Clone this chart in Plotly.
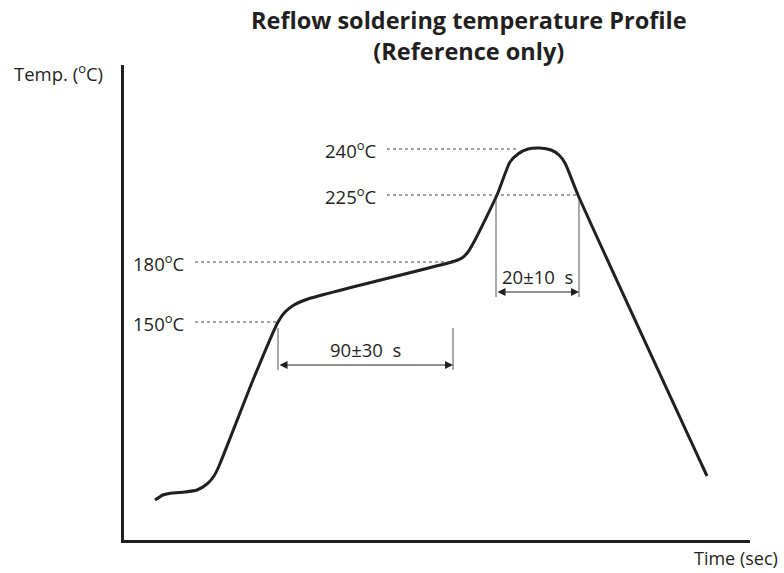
import plotly.graph_objects as go

# Schematic profile (time units, height units) -- plot area origin at bottom-left
profile_t = [31, 39, 48, 61, 73, 83, 90, 95, 129, 154, 161, 170, 184, 331, 338, 344, 351, 373, 386, 394, 404, 416, 427, 435, 441, 454, 583]
profile_h = [40, 45, 47, 48, 50, 56, 64, 74, 160, 218, 228, 235, 241, 279, 282, 288, 300, 345, 378, 386, 391, 392, 390, 385, 377, 345, 64]

# Temperature levels (schematic heights) with labels and dotted-line ends
level_labels = ["150<sup>o</sup>C", "180<sup>o</sup>C", "225<sup>o</sup>C", "240<sup>o</sup>C"]
level_h = [218, 278, 345, 391]
level_label_t = [63, 63, 255, 255]
level_line_end = [154, 331, 455, 394]

# Time windows
window_labels = ["90±30  s", "20±10  s"]
window_start = [154, 372]
window_end = [329, 455]
window_h = [175, 248]
window_top = [212, 340]

FONT = "Open Sans"
INK = "#231f20"
L, R, T, B = 124, 34, 65, 33
W, H = 784, 573
PW, PH = W - L - R, H - T - B

fig = go.Figure()
fig.add_trace(go.Scatter(x=profile_t, y=profile_h, mode="lines",
                         line=dict(color=INK, width=3, shape="spline", smoothing=0.6),
                         hoverinfo="skip", showlegend=False))

shapes = []
annotations = []
for lab, h, lt, le in zip(level_labels, level_h, level_label_t, level_line_end):
    shapes.append(dict(type="line", xref="x", yref="y", x0=lt + 8, x1=le, y0=h, y1=h,
                       line=dict(color="#444", width=1, dash="dot")))
    annotations.append(dict(x=lt, y=h, xref="x", yref="y", text=lab, showarrow=False,
                            xanchor="right", yanchor="middle",
                            font=dict(family=FONT, size=18.5, color=INK)))

for lab, s, e, h, top in zip(window_labels, window_start, window_end, window_h, window_top):
    for xv in (s, e):
        shapes.append(dict(type="line", xref="x", yref="y", x0=xv, x1=xv, y0=h - 5, y1=top,
                           line=dict(color="#555", width=1)))
    annotations.append(dict(x=e, y=h, ax=s, ay=h, xref="x", yref="y", axref="x", ayref="y",
                            text="", showarrow=True, arrowhead=2, arrowside="end+start",
                            arrowsize=1.6, arrowwidth=1, arrowcolor=INK))
    annotations.append(dict(x=(s + e) / 2, y=h + 1, xref="x", yref="y", text=lab, showarrow=False,
                            xanchor="center", yanchor="bottom",
                            font=dict(family=FONT, size=18.5, color=INK)))

annotations.append(dict(x=(12 - L) / PW, y=(H - B - 72) / PH, xref="paper", yref="paper",
                        text="Temp. (<sup>o</sup>C)", showarrow=False, xanchor="left", yanchor="middle",
                        font=dict(family=FONT, size=18.5, color=INK)))
annotations.append(dict(x=(779 - L) / PW, y=(H - B - 558) / PH, xref="paper", yref="paper",
                        text="Time (sec)", showarrow=False, xanchor="right", yanchor="middle",
                        borderpad=0, font=dict(family=FONT, size=18, color=INK)))
annotations.append(dict(x=(469 - L) / PW, y=(H - B - 36) / PH, xref="paper", yref="paper",
                        text="<b>Reflow soldering temperature Profile<br>(Reference only)</b>",
                        showarrow=False, xanchor="center", yanchor="middle", align="center",
                        font=dict(family=FONT, size=23.5, color=INK)))

fig.update_layout(
    width=W, height=H,
    margin=dict(l=L, r=R, t=T, b=B),
    paper_bgcolor="white", plot_bgcolor="white",
    xaxis=dict(range=[0, PW], showline=True, linecolor=INK, linewidth=2.5,
               showgrid=False, zeroline=False, showticklabels=False, ticks="", fixedrange=True),
    yaxis=dict(range=[0, PH], showline=True, linecolor=INK, linewidth=2.5,
               showgrid=False, zeroline=False, showticklabels=False, ticks="", fixedrange=True),
    shapes=shapes, annotations=annotations,
)

fig.write_html("out.html", post_script="document.body.style.margin='0';",
               config={"displayModeBar": False})
